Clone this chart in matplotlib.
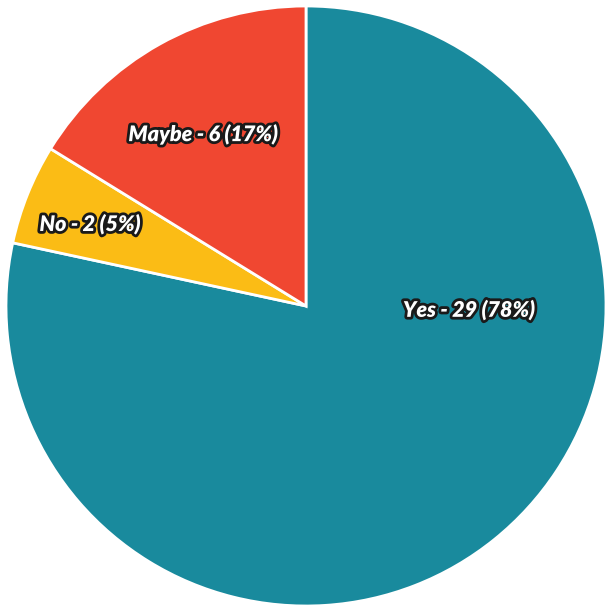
import matplotlib
matplotlib.use("Agg")
import matplotlib.pyplot as plt
import matplotlib.patheffects as pe

categories = ["Yes", "No", "Maybe"]
counts = [29, 2, 6]
percent_labels = ["78%", "5%", "17%"]
colors = ["#198A9D", "#FBBC15", "#F04731"]

fig = plt.figure(figsize=(6.05, 6.07), dpi=100)
ax = fig.add_axes([0, 0, 1, 1])
fig_w, fig_h = 605, 607
cx, cy, r = 306, 607 - 306, 300
ax.set_position([(cx - r) / fig_w, (cy - r) / fig_h, 2 * r / fig_w, 2 * r / fig_h])

wedges, _ = ax.pie(counts, colors=colors, startangle=90, counterclock=False,
                   radius=1, wedgeprops=dict(edgecolor="white", linewidth=2))
ax.set_xlim(-1, 1)
ax.set_ylim(-1, 1)
ax.set_aspect("equal")
ax.axis("off")

label_pos = [(0.543, -0.013), (-0.72, 0.273), (-0.343, 0.573)]
for cat, c, p, (x, y) in zip(categories, counts, percent_labels, label_pos):
    ax.text(x, y, f"{cat} - {c} ({p})", ha="center", va="center",
            color="white", fontsize=15.5, fontweight="heavy", fontstyle="italic",
            family=["Lato", "DejaVu Sans"],
            path_effects=[pe.withStroke(linewidth=4, foreground="#1a1a1a")])

fig.savefig("out.png", dpi=100)
